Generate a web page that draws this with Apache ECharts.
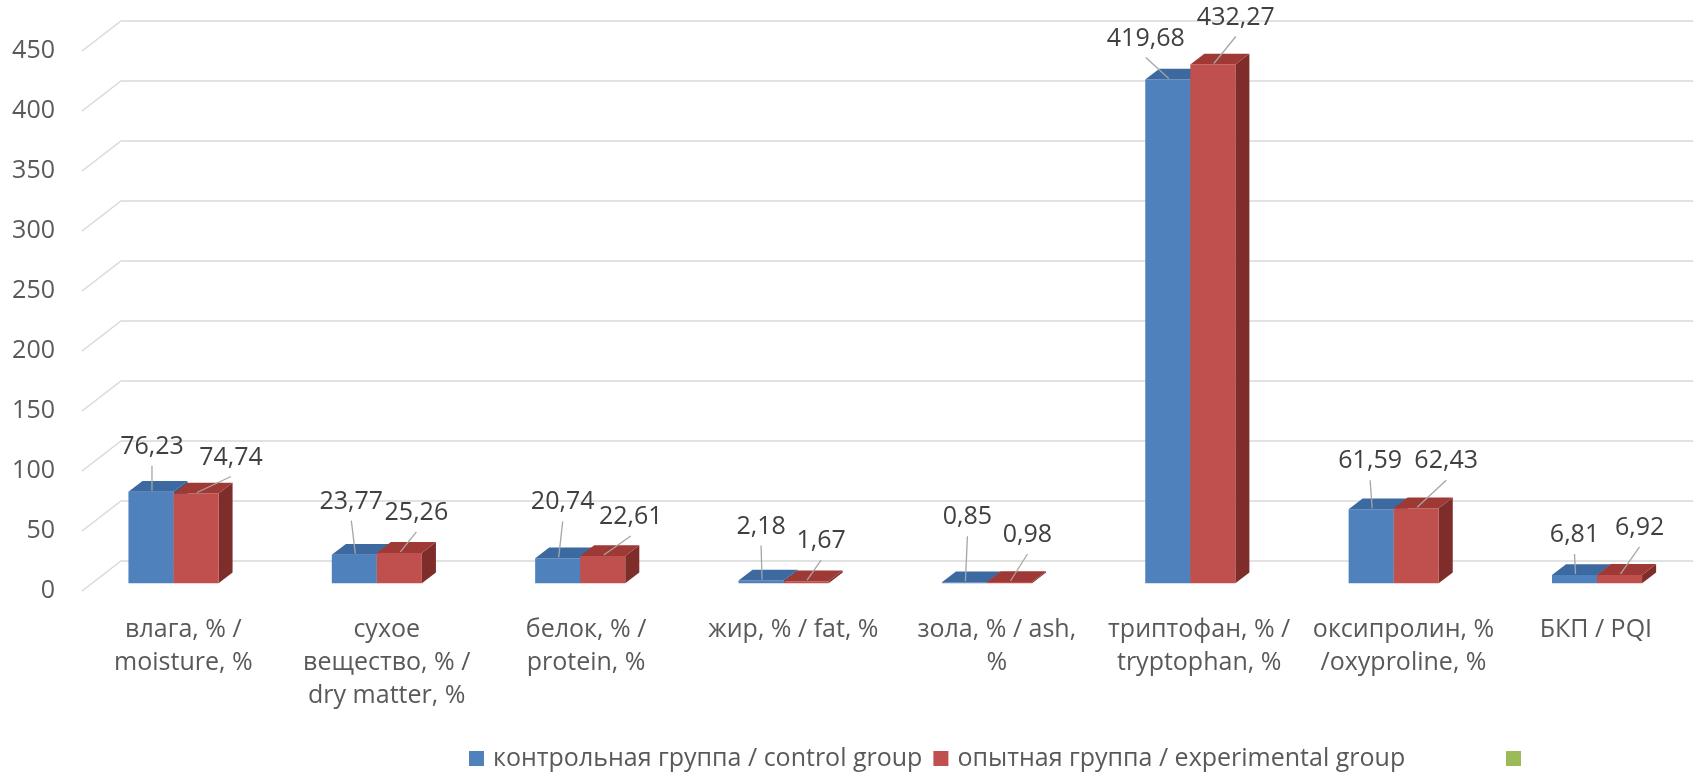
<!DOCTYPE html>
<html>
<head>
<meta charset="utf-8">
<script src="https://cdn.jsdelivr.net/npm/echarts@6/dist/echarts.min.js"></script>
<style>
  html, body { margin: 0; padding: 0; background: #ffffff; }
  #chart { width: 1693px; height: 773px; }
</style>
</head>
<body>
<div id="chart"></div>
<script>
// ---- data ----
const categories = [
  'влага, % /\nmoisture, %',
  'сухое\nвещество, % /\ndry matter, %',
  'белок, % /\nprotein, %',
  'жир, % / fat, %',
  'зола, % / ash,\n%',
  'триптофан, % /\ntryptophan, %',
  'оксипролин, %\n/oxyproline, %',
  'БКП / PQI'
];
const controlValues = [76.23, 23.77, 20.74, 2.18, 0.85, 419.68, 61.59, 6.81];
const experimentalValues = [74.74, 25.26, 22.61, 1.67, 0.98, 432.27, 62.43, 6.92];
const seriesNames = ['контрольная группа / control group', 'опытная группа / experimental group', ' '];
const yTicks = [0, 50, 100, 150, 200, 250, 300, 350, 400, 450];

// ---- layout / style ----
const FONT = '"Open Sans", "DejaVu Sans", sans-serif';
const TEXT_COLOR = '#595959';
const DEPTH = [39, -30];            // oblique depth of the back wall, px
const BAR_FRONT = 0.26;             // bar front plane, fraction of depth
const BAR_BACK = 0.62;              // bar back plane, fraction of depth
const BAR_W = 0.2215;               // width of one bar, category units
const FLOOR_START = -0.4;           // left wall position, category units
const FLOOR_END = 7.33;             // right end of the floor, category units

const COLORS = [
  { front: '#4F81BD', top: '#3C69A0', side: '#2F5587' },
  { front: '#C0504D', top: '#9E3936', side: '#7E2D2B' }
];
// data-label offsets (px) from the bar's front-top centre
const LABEL_OFFSETS = [
  [[1, -45], [-3, -53], [5, -56], [0, -54], [3, -65], [-22, -41], [-1, -48], [0, -40]],
  [[35, -36], [17, -40], [28, -39], [15, -40], [18, -47], [23, -47], [30, -47], [20, -47]]
];
// horizontal placement of the category labels (px from the floor's front centre)
const CAT_LABEL_DX = [20, 20, 16, 20, 20, 19, 20, 9];

function fmt(v) { return v.toFixed(2).replace('.', ','); }

function project(api, x, v, d) {
  const p = api.coord([x, v]);
  return [p[0] + DEPTH[0] * d, p[1] + DEPTH[1] * d];
}

function barRenderer(groupIdx) {
  return function (params, api) {
    const k = api.value(0);
    const v = api.value(1);
    const x0 = groupIdx === 0 ? k - BAR_W : k;
    const x1 = groupIdx === 0 ? k : k + BAR_W;
    const f = BAR_FRONT, b = BAR_BACK;
    const c = COLORS[groupIdx];
    const side = [project(api, x1, 0, f), project(api, x1, v, f), project(api, x1, v, b), project(api, x1, 0, b)];
    const front = [project(api, x0, 0, f), project(api, x1, 0, f), project(api, x1, v, f), project(api, x0, v, f)];
    const top = [project(api, x0, v, f), project(api, x1, v, f), project(api, x1, v, b), project(api, x0, v, b)];
    const anchor = project(api, (x0 + x1) / 2, v, f);
    const off = LABEL_OFFSETS[groupIdx][params.dataIndex];
    const tx = anchor[0] + off[0], ty = anchor[1] + off[1];
    return {
      type: 'group',
      children: [
        { type: 'polygon', shape: { points: side }, style: { fill: c.side } },
        { type: 'polygon', shape: { points: front }, style: { fill: c.front } },
        { type: 'polygon', shape: { points: top }, style: { fill: c.top } },
        { type: 'line', shape: { x1: tx, y1: ty + 19, x2: anchor[0] + 1, y2: anchor[1] - 1 },
          style: { stroke: '#A6A6A6', lineWidth: 1.3 }, z2: 5 },
        { type: 'text', x: tx, y: ty, z2: 6,
          style: { text: fmt(v), fill: '#404040', fontSize: 25, fontFamily: FONT,
                   align: 'center', verticalAlign: 'middle' } }
      ]
    };
  };
}

const chart = echarts.init(document.getElementById('chart'), null, { renderer: 'canvas' });

chart.setOption({
  animation: false,
  backgroundColor: '#ffffff',
  grid: { left: 82, right: 39, top: 51, bottom: 182 },
  xAxis: { type: 'value', min: FLOOR_START, max: FLOOR_END, show: false },
  yAxis: {
    type: 'value', min: 0, max: 450, interval: 50,
    axisLine: { show: false }, axisTick: { show: false }, splitLine: { show: false },
    axisLabel: { margin: 27, color: TEXT_COLOR, fontSize: 25, fontFamily: FONT }
  },
  legend: [
    {
      data: seriesNames.slice(0, 2), left: 464, top: 741, icon: 'rect',
      itemWidth: 15, itemHeight: 15, itemGap: 11,
      textStyle: { color: TEXT_COLOR, fontSize: 25, fontFamily: FONT, padding: [0, 0, 0, 4] }
    },
    {
      data: [seriesNames[2]], left: 1501, top: 741, icon: 'rect',
      itemWidth: 15, itemHeight: 15,
      textStyle: { color: TEXT_COLOR, fontSize: 25 }
    }
  ],
  series: [
    {
      // perspective floor and back-wall grid lines
      type: 'custom', silent: true, z: 1,
      data: yTicks.map(t => [FLOOR_START, t]),
      renderItem: function (params, api) {
        const t = api.value(1);
        const p0 = api.coord([FLOOR_START, t]);
        const p1 = [p0[0] + DEPTH[0], p0[1] + DEPTH[1]];
        const pe = api.coord([FLOOR_END, t]);
        const p2 = [pe[0] + DEPTH[0], pe[1] + DEPTH[1]];
        return { type: 'polyline', shape: { points: [p0, p1, p2] },
                 style: { stroke: '#D9D9D9', lineWidth: 1.5, fill: null } };
      }
    },
    {
      name: seriesNames[0], type: 'custom', z: 3,
      itemStyle: { color: COLORS[0].front },
      data: controlValues.map((v, i) => [i, v]),
      renderItem: barRenderer(0)
    },
    {
      name: seriesNames[1], type: 'custom', z: 3,
      itemStyle: { color: COLORS[1].front },
      data: experimentalValues.map((v, i) => [i, v]),
      renderItem: barRenderer(1)
    },
    {
      name: seriesNames[2], type: 'custom', z: 3,
      itemStyle: { color: '#9BBB59' },
      data: [],
      renderItem: function () { return null; }
    },
    {
      // category labels under the floor
      type: 'custom', silent: true, z: 2,
      data: categories.map((c, i) => [i, 0]),
      renderItem: function (params, api) {
        const p = api.coord([api.value(0), 0]);
        return {
          type: 'text', x: p[0] + CAT_LABEL_DX[params.dataIndex], y: p[1] + 22,
          style: { text: categories[params.dataIndex], fill: TEXT_COLOR, fontSize: 25,
                   fontFamily: FONT, align: 'center', verticalAlign: 'top', lineHeight: 33 }
        };
      }
    }
  ]
});
</script>
</body>
</html>
